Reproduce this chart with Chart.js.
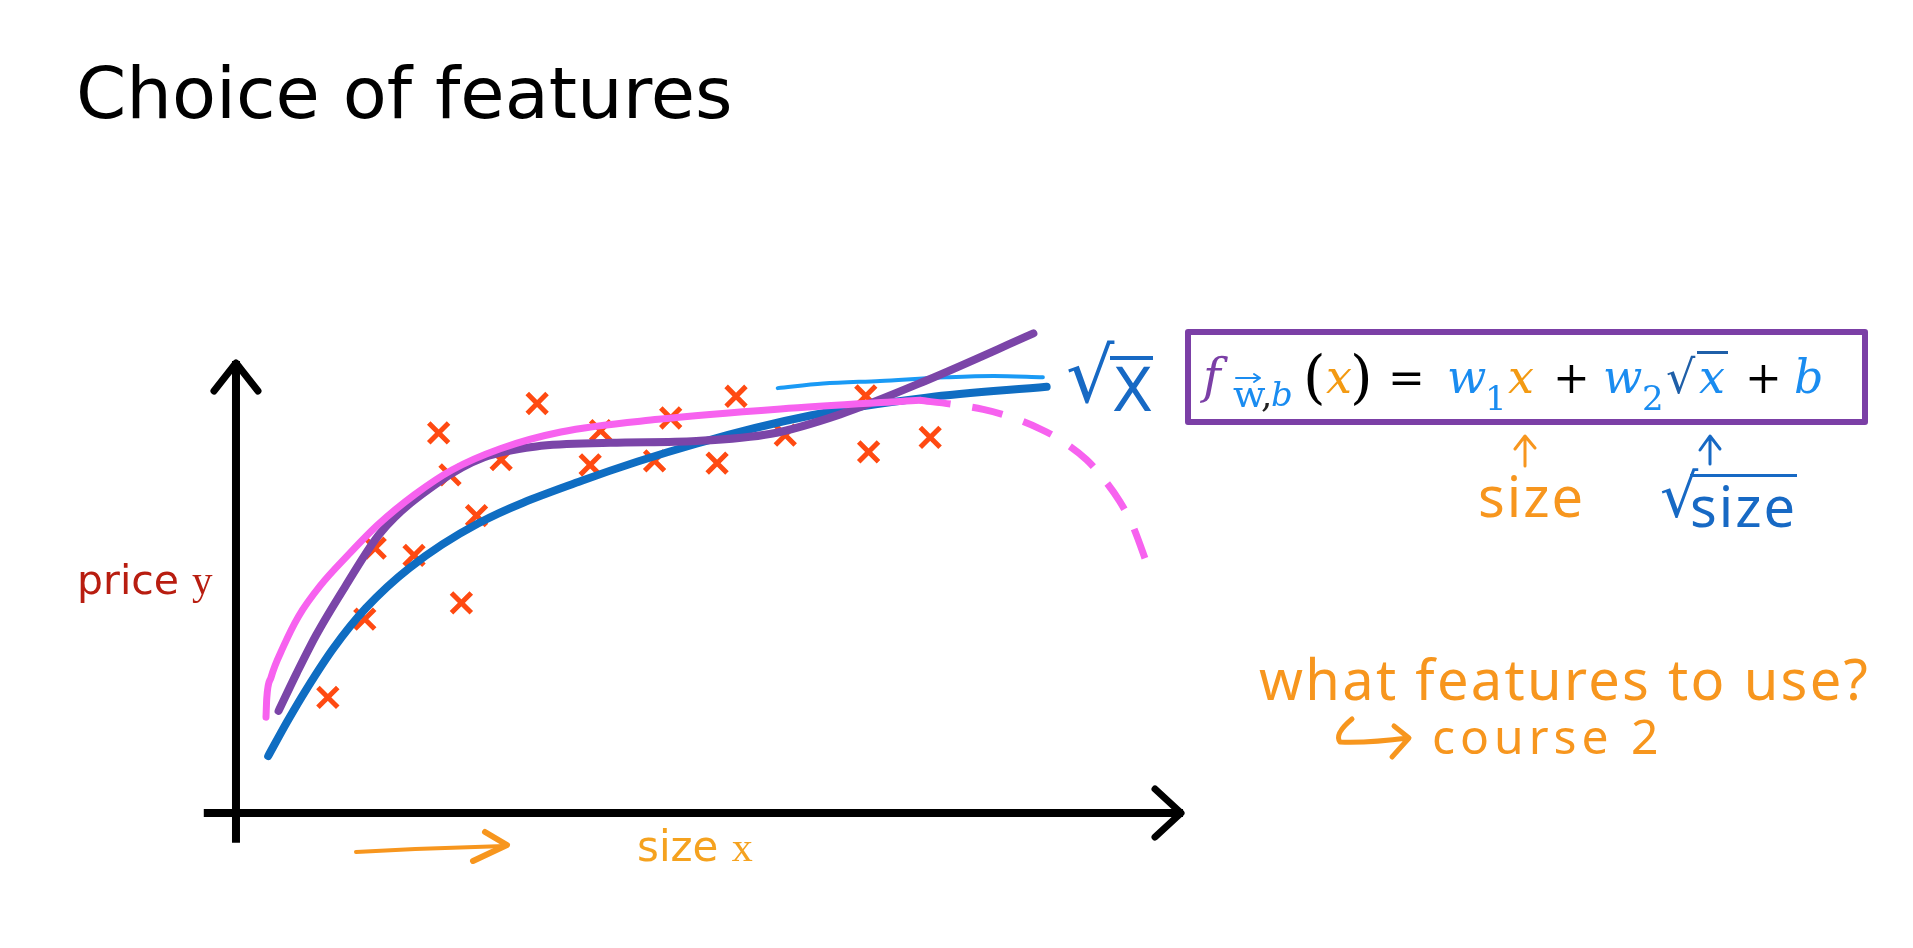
<!DOCTYPE html>
<html>
<head>
<meta charset="utf-8">
<title>Choice of features</title>
<script src="https://cdn.jsdelivr.net/npm/chart.js@4.4.1/dist/chart.umd.min.js"></script>
<style>
  html, body { margin: 0; padding: 0; background: #fff; }
  #wrap { position: absolute; left: 0; top: 0; width: 1913px; height: 948px; overflow: hidden; }
  #chartBox { position: absolute; left: 0; top: 0; width: 1913px; height: 948px; }
  .t { position: absolute; white-space: nowrap; line-height: 1; }
  .sans { font-family: "DejaVu Sans", Verdana, sans-serif; }
  .serif { font-family: "Liberation Serif", "Times New Roman", serif; }
  .math { font-family: "DejaVu Serif", serif; }
  .it { font-style: italic; }
  .hand { font-family: "Noto Sans", sans-serif; color: #f7961e; }
  .blue { color: #1a8cf0; }
  .orange { color: #f39a12; }
  #box { position: absolute; left: 1185px; top: 329px; width: 683px; height: 96px; box-sizing: border-box;
         border: 6px solid #7b3fa6; border-radius: 3px; }
  svg { position: absolute; left: 0; top: 0; }
</style>
</head>
<body>
<div id="wrap">
  <div id="chartBox"><canvas id="featChart"></canvas></div>

  <div class="t sans" style="left:76px; top:57px; font-size:72px; color:#000;">Choice of features</div>

  <div class="t" style="left:77px; top:560px; font-size:41px; color:#b81d10;"><span class="sans">price </span><span class="serif">y</span></div>
  <div class="t" style="left:637px; top:826px; font-size:42px; color:#f5a21f;"><span class="sans">size </span><span class="serif">x</span></div>

  <!-- sqrt x note beside the curves -->
  <div class="t sans" style="left:1066px; top:338px; font-size:76px; color:#1769c4;">√</div>
  <div class="t sans" style="left:1110px; top:356px; font-size:60px; color:#1769c4; border-top:4px solid #1769c4; padding-left:2px;">X</div>

  <div id="box"></div>
  <div class="t math it" style="left:1203px; top:352px; font-size:48px; color:#7b3fa6;">f</div>
  <div class="t math" style="left:1233px; top:375px; font-size:38px; color:#1a8cf0;">w</div>
  <div class="t math" style="left:1261px; top:377px; font-size:36px; color:#222;">,</div>
  <div class="t math it" style="left:1271px; top:377px; font-size:34px; color:#1a8cf0;">b</div>
  <div class="t math" style="left:1303px; top:348px; font-size:58px; color:#000;">(</div>
  <div class="t math it orange" style="left:1326px; top:354px; font-size:46px;">x</div>
  <div class="t math" style="left:1350px; top:348px; font-size:58px; color:#000;">)</div>
  <div class="t math" style="left:1388px; top:356px; font-size:44px; color:#000;">=</div>
  <div class="t math it blue" style="left:1447px; top:354px; font-size:46px;">w</div>
  <div class="t math blue" style="left:1485px; top:381px; font-size:34px;">1</div>
  <div class="t math it orange" style="left:1508px; top:354px; font-size:46px;">x</div>
  <div class="t math" style="left:1553px; top:356px; font-size:44px; color:#000;">+</div>
  <div class="t math it blue" style="left:1603px; top:354px; font-size:46px;">w</div>
  <div class="t math blue" style="left:1642px; top:381px; font-size:34px;">2</div>
  <div class="t math" style="left:1666px; top:354px; font-size:46px; color:#1f5fa8;">√</div>
  <div class="t math it blue" style="left:1697px; top:351px; font-size:46px; border-top:3px solid #1f5fa8; padding:0 3px 0 2px;">x</div>
  <div class="t math" style="left:1745px; top:356px; font-size:44px; color:#000;">+</div>
  <div class="t math it blue" style="left:1794px; top:354px; font-size:46px;">b</div>

  <div class="t hand" style="left:1478px; top:467px; font-size:56px; letter-spacing:2px;">size</div>
  <div class="t sans" style="left:1660px; top:466px; font-size:60px; color:#1769c4;">√</div>
  <div class="t hand" style="left:1690px; top:474px; font-size:56px; letter-spacing:2px; color:#1769c4; border-top:3px solid #1769c4;">size</div>

  <div class="t hand" style="left:1259px; top:650px; font-size:56px; letter-spacing:2.3px;">what features to use?</div>
  <div class="t hand" style="left:1432px; top:712px; font-size:48px; letter-spacing:5px;">course 2</div>

  <svg width="1913" height="948" fill="none" stroke-linecap="round" stroke-linejoin="round">
    <path d="M356 852 Q430 848 505 846" stroke="#f7961e" stroke-width="4"/>
    <path d="M485 832 L507 845 L473 861" stroke="#f7961e" stroke-width="6"/>
    <path d="M1525 466 L1525 437 M1515 449 L1525 436 L1535 448" stroke="#f7961e" stroke-width="3"/>
    <path d="M1710 464 L1710 437 M1700 450 L1710 436 L1720 449" stroke="#1769c4" stroke-width="3"/>
    <path d="M1352 719 Q1334 734 1340 742 Q1370 743 1408 738 M1394 726 L1409 738 L1392 757" stroke="#f7961e" stroke-width="5"/>
    <path d="M1236 378 L1260 378 M1254 374 L1260 378 L1254 382" stroke="#1a8cf0" stroke-width="2"/>
  </svg>
</div>

<script>
// data: size (x) vs price (y), arbitrary units, axes cross at 0
const pointSize  = [9.7, 13.6, 14.7, 18.8, 21.4, 22.6, 23.8, 25.4, 28.0, 31.8, 37.4, 38.5, 44.2, 45.9, 50.8, 52.8, 58.0, 66.5, 66.8, 73.3];
const pointPrice = [25.6, 42.9, 58.6, 57.0, 84.1, 74.8, 46.5, 65.8, 78.2, 90.6, 77.0, 84.6, 77.9, 87.4, 77.4, 92.2, 83.6, 92.3, 79.9, 83.1];

// w1 x + w2 sqrt(x) + b fit (dark blue)
const sqrtFitSize  = [3.4, 5.4, 7.5, 10.3, 13.7, 18.3, 25.6, 36.5, 48.6, 60.8, 72.9, 85.6];
const sqrtFitPrice = [12.6, 20.2, 27.6, 36.5, 45.3, 54.2, 64.1, 73.5, 81.7, 88.0, 91.9, 94.3];

// light blue stroke next to the sqrt x note
const lightSize  = [57.2, 62, 68, 75, 80, 85.2];
const lightPrice = [94.0, 95.0, 95.6, 96.4, 96.7, 96.4];

// purple curve
const purpleSize  = [4.5, 6.4, 8.5, 11.5, 15.3, 21.4, 26.2, 31.7, 39.5, 48.6, 56.5, 63.8, 72.9, 84.2];
const purplePrice = [22.6, 30.9, 39.5, 50.0, 62.1, 73.2, 78.7, 81.1, 81.9, 82.3, 83.9, 88.2, 95.7, 106.1];

// pink curve, solid part then dashed drop
const pinkSize  = [3.17, 3.25, 3.7, 5.0, 6.6, 8.9, 11.8, 15.0, 18.9, 22.8, 27.9, 34.3, 44.6, 57.5, 72.2];
const pinkPrice = [21.2, 25.4, 30.0, 36.8, 43.5, 50.3, 57.0, 63.8, 70.5, 75.9, 80.6, 84.3, 87.1, 89.4, 91.3];
const pinkDashSize  = [72.2, 75.7, 78.9, 81.4, 84.9, 86.7, 89.8, 91.2, 93.3, 94.7, 96.3];
const pinkDashPrice = [91.3, 90.4, 89.3, 87.9, 85.0, 83.0, 78.2, 75.0, 69.0, 63.5, 54.5];

// axis extents
const axisXFrom = -3.4, axisXTo = 100;
const axisYFrom = -6.6, axisYTo = 100;

const toXY = (xs, ys) => xs.map((v, i) => ({x: v, y: ys[i]}));

const axisArrows = {
  id: 'axisArrows',
  beforeDatasetsDraw(chart) {
    const {ctx, scales: {x, y}} = chart;
    const x0 = x.getPixelForValue(0);
    const y0 = y.getPixelForValue(0);
    const ty = y.getPixelForValue(axisYTo);
    const tx = x.getPixelForValue(axisXTo);
    ctx.save();
    ctx.strokeStyle = '#000';
    ctx.lineWidth = 8;
    ctx.beginPath();
    ctx.moveTo(x0, y.getPixelForValue(axisYFrom));
    ctx.lineTo(x0, ty);
    ctx.moveTo(x.getPixelForValue(axisXFrom), y0);
    ctx.lineTo(tx, y0);
    ctx.stroke();
    ctx.lineCap = 'round';
    ctx.lineJoin = 'round';
    ctx.lineWidth = 7;
    ctx.beginPath();
    ctx.moveTo(x0 - 22, ty + 30);
    ctx.lineTo(x0, ty + 2);
    ctx.lineTo(x0 + 22, ty + 30);
    ctx.moveTo(tx - 28, y0 - 24);
    ctx.lineTo(tx - 2, y0);
    ctx.lineTo(tx - 28, y0 + 24);
    ctx.stroke();
    ctx.restore();
  }
};

const curve = (label, data, color, width, order, extra) => Object.assign({
  label: label,
  data: data,
  showLine: true,
  borderColor: color,
  backgroundColor: color,
  borderWidth: width,
  borderCapStyle: 'round',
  borderJoinStyle: 'round',
  cubicInterpolationMode: 'monotone',
  pointRadius: 0,
  order: order,
}, extra || {});

const ctx = document.getElementById('featChart').getContext('2d');
const featChart = new Chart(ctx, {
  type: 'scatter',
  data: {
    datasets: [
      curve('pink', toXY(pinkSize, pinkPrice), '#f762ef', 7, 1),
      curve('pink dashed', toXY(pinkDashSize, pinkDashPrice), '#f762ef', 7, 1, {borderDash: [31, 22], borderCapStyle: 'butt'}),
      curve('purple', toXY(purpleSize, purplePrice), '#7b45a8', 8, 2),
      curve('sqrt fit', toXY(sqrtFitSize, sqrtFitPrice), '#0f6dc2', 8, 3),
      curve('light', toXY(lightSize, lightPrice), '#1a9af5', 4, 4),
      {
        label: 'houses',
        data: toXY(pointSize, pointPrice),
        pointStyle: 'crossRot',
        pointRadius: 14,
        pointBorderWidth: 5,
        borderColor: '#ff4a12',
        backgroundColor: '#ff4a12',
        order: 5,
      },
    ],
  },
  options: {
    responsive: true,
    maintainAspectRatio: false,
    animation: false,
    events: [],
    layout: { padding: { left: 198.1, right: 720.5, top: 315.8, bottom: 98.8 } },
    scales: {
      x: { type: 'linear', min: -4, max: 101, display: false },
      y: { type: 'linear', min: -8, max: 110, display: false },
    },
    plugins: {
      legend: { display: false },
      tooltip: { enabled: false },
    },
  },
  plugins: [axisArrows],
});
</script>
</body>
</html>
